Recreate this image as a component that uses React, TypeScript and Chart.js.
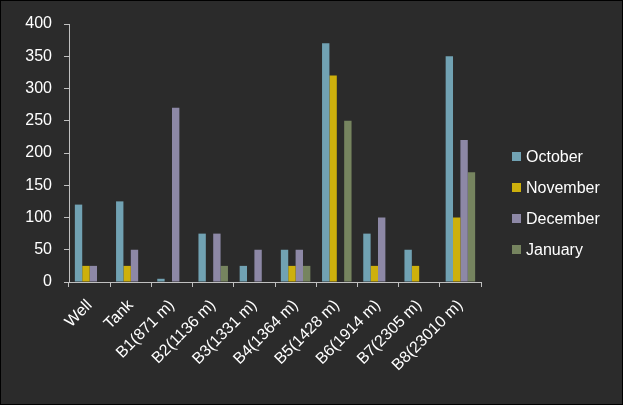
import React, { useEffect, useRef } from "react";
import { Chart, registerables } from "chart.js";

Chart.register(...registerables);

const categories = [
  "Well",
  "Tank",
  "B1(871 m)",
  "B2(1136 m)",
  "B3(1331 m)",
  "B4(1364 m)",
  "B5(1428 m)",
  "B6(1914 m)",
  "B7(2305 m)",
  "B8(23010 m)",
];
const october = [120, 125, 5, 75, 25, 50, 370, 75, 50, 350];
const november = [25, 25, 0, 0, 0, 25, 320, 25, 25, 100];
const december = [25, 50, 270, 75, 50, 50, 0, 100, 0, 220];
const january = [0, 0, 0, 25, 0, 25, 250, 0, 0, 170];
const seriesNames = ["October", "November", "December", "January"];
const seriesColors = ["#71a2b3", "#cdb00c", "#8d88a6", "#76845f"];
const yTicks = [0, 50, 100, 150, 200, 250, 300, 350, 400];

const FONT = "Arial, 'Liberation Sans', sans-serif";

const bgPlugin = {
  id: "bgPlugin",
  beforeDraw(chart: any) {
    const { ctx, width, height } = chart;
    ctx.save();
    ctx.fillStyle = "#2b2b2b";
    ctx.fillRect(0, 0, width, height);
    ctx.strokeStyle = "#000000";
    ctx.lineWidth = 1;
    ctx.strokeRect(0.5, 0.5, width - 1, height - 1);
    ctx.restore();
  },
};

const legendPlugin = {
  id: "customLegend",
  afterDraw(chart: any) {
    const { ctx } = chart;
    ctx.save();
    ctx.font = `16px ${FONT}`;
    ctx.textBaseline = "middle";
    ctx.textAlign = "left";
    chart.data.datasets.forEach((ds: any, i: number) => {
      const cy = 157 + i * 31;
      ctx.fillStyle = ds.backgroundColor;
      ctx.fillRect(512, cy - 5, 9, 9);
      ctx.fillStyle = "#ffffff";
      ctx.fillText(ds.label, 526, cy + 1);
    });
    ctx.restore();
  },
};

export default function App() {
  const ref = useRef<HTMLCanvasElement | null>(null);
  useEffect(() => {
    if (!ref.current) return;
    const data = [october, november, december, january];
    const chart = new Chart(ref.current, {
      type: "bar",
      data: {
        labels: categories,
        datasets: seriesNames.map((name, i) => ({
          label: name,
          data: data[i],
          backgroundColor: seriesColors[i],
          borderWidth: 0,
          categoryPercentage: 0.716,
          barPercentage: 1,
        })),
      },
      options: {
        animation: false,
        responsive: false,
        maintainAspectRatio: false,
        layout: { padding: { left: 0, top: 24, right: 142, bottom: 0 } },
        plugins: {
          legend: { display: false },
          tooltip: { enabled: false },
        },
        scales: {
          x: {
            grid: {
              display: true,
              drawOnChartArea: false,
              drawTicks: true,
              tickLength: 5,
              color: "#c0c0c0",
              offset: true,
            },
            border: { display: true, color: "#c0c0c0", width: 1 },
            ticks: {
              color: "#ffffff",
              font: { family: FONT, size: 16 },
              maxRotation: 45,
              minRotation: 45,
              autoSkip: false,
              padding: 9,
            },
            afterFit(scale: any) {
              scale.height = 123;
            },
          },
          y: {
            min: 0,
            max: 400,
            afterBuildTicks(scale: any) {
              scale.ticks = yTicks.map((v) => ({ value: v }));
            },
            grid: {
              display: true,
              drawOnChartArea: false,
              drawTicks: true,
              tickLength: 5,
              color: "#c0c0c0",
            },
            border: { display: true, color: "#c0c0c0", width: 1 },
            ticks: {
              color: "#ffffff",
              font: { family: FONT, size: 16 },
              padding: 12,
            },
            afterFit(scale: any) {
              scale.width = 69;
            },
          },
        },
      },
      plugins: [bgPlugin, legendPlugin],
    });
    return () => chart.destroy();
  }, []);
  return (
    <div style={{ position: "absolute", left: 0, top: 0, width: 623, height: 405 }}>
      <canvas ref={ref} width={623} height={405} style={{ display: "block" }} />
    </div>
  );
}
